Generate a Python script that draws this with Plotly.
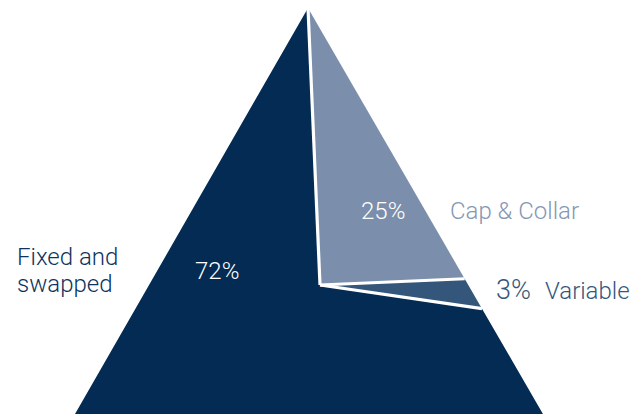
import math
import plotly.graph_objects as go

# Portfolio split (percent)
labels = ["Cap & Collar", "Variable", "Fixed and swapped"]
values = [25, 3, 72]
colors = ["#7b8eab", "#35567b", "#032b54"]

# Triangle frame (pixel space) and the pie centre inside it
APEX = (308, 8)
BASE_R = (547, 421)
BASE_L = (71, 421)
TRI = [APEX, BASE_R, BASE_L]
CX, CY = 320, 285


def to_xy(theta_deg, r):
    t = math.radians(theta_deg)
    return (CX + r * math.cos(t), CY - r * math.sin(t))


def intersect(p1, p2, p3, p4):
    x1, y1 = p1
    x2, y2 = p2
    x3, y3 = p3
    x4, y4 = p4
    d = (x1 - x2) * (y3 - y4) - (y1 - y2) * (x3 - x4)
    t = ((x1 - x3) * (y3 - y4) - (y1 - y3) * (x3 - x4)) / d
    return (x1 + t * (x2 - x1), y1 + t * (y2 - y1))


def clip(subject, clipper):
    """Sutherland-Hodgman clipping of a polygon against a convex polygon."""
    def cross(a, b, p):
        return (b[0] - a[0]) * (p[1] - a[1]) - (b[1] - a[1]) * (p[0] - a[0])

    sign = 1 if cross(clipper[0], clipper[1], clipper[2]) > 0 else -1
    out = subject
    n = len(clipper)
    for i in range(n):
        a, b = clipper[i], clipper[(i + 1) % n]
        inp, out = out, []
        if not inp:
            break
        s = inp[-1]
        for e in inp:
            ein = sign * cross(a, b, e) >= 0
            sin_ = sign * cross(a, b, s) >= 0
            if ein:
                if not sin_:
                    out.append(intersect(s, e, a, b))
                out.append(e)
            elif sin_:
                out.append(intersect(s, e, a, b))
            s = e
    return out


def ray_hit(theta_deg):
    """Point where a ray from the centre leaves the triangle."""
    t = math.radians(theta_deg)
    dx, dy = math.cos(t), -math.sin(t)
    best = None
    for i in range(3):
        a, b = TRI[i], TRI[(i + 1) % 3]
        ex, ey = b[0] - a[0], b[1] - a[1]
        den = dx * ey - dy * ex
        if abs(den) < 1e-12:
            continue
        s = ((a[0] - CX) * ey - (a[1] - CY) * ex) / den
        u = ((a[0] - CX) * dy - (a[1] - CY) * dx) / den
        if s > 0 and -1e-9 <= u <= 1 + 1e-9:
            if best is None or s < best:
                best = s
    return (CX + best * dx, CY + best * dy)


# First slice starts on the line towards the apex and runs clockwise
start = math.degrees(math.atan2(CY - APEX[1], APEX[0] - CX))
total = float(sum(values))

fig = go.Figure()
bounds = []
angle = start
for lab, val, col in zip(labels, values, colors):
    sweep = 360.0 * val / total
    steps = max(2, int(sweep))
    arc = [to_xy(angle - sweep * k / steps, 3000) for k in range(steps + 1)]
    poly = clip([(CX, CY)] + arc, TRI)
    xs = [p[0] for p in poly] + [poly[0][0]]
    ys = [p[1] for p in poly] + [poly[0][1]]
    fig.add_trace(go.Scatter(
        x=xs, y=ys, mode="lines", fill="toself", fillcolor=col,
        line=dict(width=0, color=col), hoverinfo="text", text=lab,
        showlegend=False,
    ))
    bounds.append(angle)
    angle -= sweep

# White separators between slices
for b in bounds:
    hx, hy = ray_hit(b)
    fig.add_trace(go.Scatter(
        x=[CX, hx], y=[CY, hy], mode="lines",
        line=dict(color="white", width=3.2), hoverinfo="skip",
        showlegend=False,
    ))

FONT = "Roboto"
SIZE = 24
fixed_words = labels[2].split(" ")
ann = [
    dict(x=15, y=257, text=" ".join(fixed_words[:2]), xanchor="left", yanchor="middle",
         font=dict(size=SIZE, color="#0d345e", family=FONT, weight=300)),
    dict(x=15, y=284, text=fixed_words[2], xanchor="left", yanchor="middle",
         font=dict(size=SIZE, color="#0d345e", family=FONT, weight=300)),
    dict(x=217, y=271, text=f"{values[2]}%", xanchor="center", yanchor="middle",
         font=dict(size=SIZE, color="white", family=FONT, weight=300)),
    dict(x=383, y=211, text=f"{values[0]}%", xanchor="center", yanchor="middle",
         font=dict(size=SIZE, color="white", family=FONT, weight=300)),
    dict(x=448, y=211, text=labels[0], xanchor="left", yanchor="middle",
         font=dict(size=SIZE, color="#8597b3", family=FONT, weight=300)),
    dict(x=494, y=290, text=f"{values[1]}%", xanchor="left", yanchor="middle",
         font=dict(size=27, color="#35567b", family=FONT, weight=300)),
    dict(x=543, y=291, text=labels[1], xanchor="left", yanchor="middle",
         font=dict(size=SIZE, color="#35567b", family=FONT, weight=300)),
]
for a in ann:
    a.update(xref="x", yref="y", showarrow=False)

fig.update_layout(
    width=642, height=414,
    margin=dict(l=0, r=0, t=0, b=0),
    paper_bgcolor="white", plot_bgcolor="white",
    xaxis=dict(range=[0, 642], visible=False, fixedrange=True),
    yaxis=dict(range=[414, 0], visible=False, fixedrange=True),
    annotations=ann,
)

fig.write_html("out.html")
